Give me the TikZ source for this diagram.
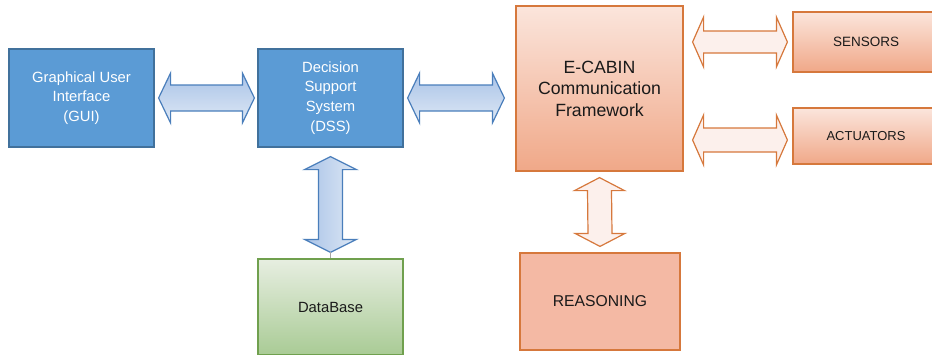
\documentclass[tikz,border=0pt]{standalone}
\usepackage{fontspec}
\setmainfont{Liberation Sans}
\usetikzlibrary{calc}

\definecolor{bluefill}{HTML}{5B9BD5}
\definecolor{blueline}{HTML}{41719C}
\definecolor{bluearrowline}{HTML}{4A7EBB}
\definecolor{bluearrowtop}{HTML}{A9C3E7}
\definecolor{bluearrowbot}{HTML}{DEE8F5}
\definecolor{orangeline}{HTML}{D6783C}
\definecolor{orangetop}{HTML}{FBE5DC}
\definecolor{orangebot}{HTML}{F0A888}
\definecolor{orangearrow}{HTML}{FCF0EC}
\definecolor{reasonfill}{HTML}{F4B9A4}
\definecolor{greenline}{HTML}{70A04E}
\definecolor{greentop}{HTML}{E7EEE1}
\definecolor{greenbot}{HTML}{A9CB95}
\definecolor{darktext}{HTML}{1A1A1A}

\tikzset{
  box/.style={draw, line width=1.2pt, inner sep=0pt, align=center},
  bluebox/.style={box, draw=blueline, fill=bluefill, text=white,
    font=\fontsize{14.8}{19.8}\selectfont,
    minimum width=145pt, minimum height=98pt},
  orangebox/.style={box, draw=orangeline, top color=orangetop, bottom color=orangebot,
    text=darktext},
  greenbox/.style={box, draw=greenline, top color=greentop, bottom color=greenbot,
    text=darktext, font=\fontsize{14.8}{18}\selectfont},
  reasonbox/.style={box, draw=orangeline, fill=reasonfill, text=darktext,
    font=\fontsize{15.7}{19}\selectfont},
  blueharrow/.style={draw=bluearrowline, line width=1.2pt, top color=bluearrowtop, bottom color=bluearrowbot},
  bluevarrow/.style={draw=bluearrowline, line width=1.2pt, left color=bluearrowtop, right color=bluearrowbot},
  orangedarrow/.style={draw=orangeline, line width=1.2pt, fill=orangearrow},
}

% horizontal double arrow: style, left tip, right tip, half head width, half shaft width, head length
\newcommand\hdarrow[6]{%
  \path[#1] (#2) -- ($(#2)+(#6,-#4)$) -- ($(#2)+(#6,-#5)$) -- ($(#3)+(-#6,-#5)$)
    -- ($(#3)+(-#6,-#4)$) -- (#3) -- ($(#3)+(-#6,#4)$) -- ($(#3)+(-#6,#5)$)
    -- ($(#2)+(#6,#5)$) -- ($(#2)+(#6,#4)$) -- cycle;}
% vertical double arrow: style, top tip, bottom tip, half head width, half shaft width, head length
\newcommand\vdarrow[6]{%
  \path[#1] (#2) -- ($(#2)+(#4,#6)$) -- ($(#2)+(#5,#6)$) -- ($(#3)+(#5,-#6)$)
    -- ($(#3)+(#4,-#6)$) -- (#3) -- ($(#3)+(-#4,-#6)$) -- ($(#3)+(-#5,-#6)$)
    -- ($(#2)+(-#5,#6)$) -- ($(#2)+(-#4,#6)$) -- cycle;}

\begin{document}
\begin{tikzpicture}[x=1pt,y=-1pt]
\useasboundingbox (0,0) rectangle (932,354);

% blocks
\node[bluebox] (gui) at (81.5,98) {Graphical User\\Interface\\(GUI)};
\node[bluebox] (dss) at (330.5,98) {Decision\\Support\\System\\(DSS)};
\node[orangebox, minimum width=167pt, minimum height=165pt,
      font=\fontsize{17.7}{21.5}\selectfont] (ecabin) at (599.5,88.5)
      {E-CABIN\\Communication\\Framework};
\node[orangebox, minimum width=146pt, minimum height=60pt,
      font=\fontsize{13.5}{16}\selectfont] (sensors) at (866,42) {SENSORS};
\node[orangebox, minimum width=146pt, minimum height=56pt,
      font=\fontsize{13}{16}\selectfont] (actuators) at (866,136) {ACTUATORS};
\node[greenbox, minimum width=145pt, minimum height=96pt] (db) at (330.5,307) {DataBase};
\node[reasonbox, minimum width=160pt, minimum height=97pt] (reasoning) at (600,301.5) {REASONING};

% arrow end points
\coordinate (a1) at ($(gui.east)+(4,0)$);
\coordinate (a2) at ($(dss.west)+(-3,0)$);
\coordinate (b1) at ($(dss.east)+(4,0)$);
\coordinate (b2) at ($(dss.east -| ecabin.west)+(-11,0)$);
\coordinate (c1) at ($(sensors.west -| ecabin.east)+(9,0)$);
\coordinate (c2) at ($(sensors.west)+(-5,0)$);
\coordinate (f1) at ($(actuators.west -| ecabin.east)+(9,4)$);
\coordinate (f2) at ($(actuators.west)+(-5,4)$);
\coordinate (d1) at ($(dss.south)+(0,9)$);
\coordinate (d2) at ($(db.north)+(0,-6)$);
\coordinate (e1) at ($(ecabin.south)+(0,6)$);
\coordinate (e2) at ($(reasoning.north)+(0,-6)$);

% connectors
\hdarrow{blueharrow}{a1}{a2}{25}{13}{12}
\hdarrow{blueharrow}{b1}{b2}{25}{13}{12}
\hdarrow{orangedarrow}{c1}{c2}{25}{11}{11}
\hdarrow{orangedarrow}{f1}{f2}{25}{12}{11}
\vdarrow{bluevarrow}{d1}{d2}{26}{12}{13}
\draw[gray!70, line width=0.6pt] (d2) -- (db.north);
\vdarrow{orangedarrow}{e1}{e2}{25}{12}{13}
\end{tikzpicture}
\end{document}
